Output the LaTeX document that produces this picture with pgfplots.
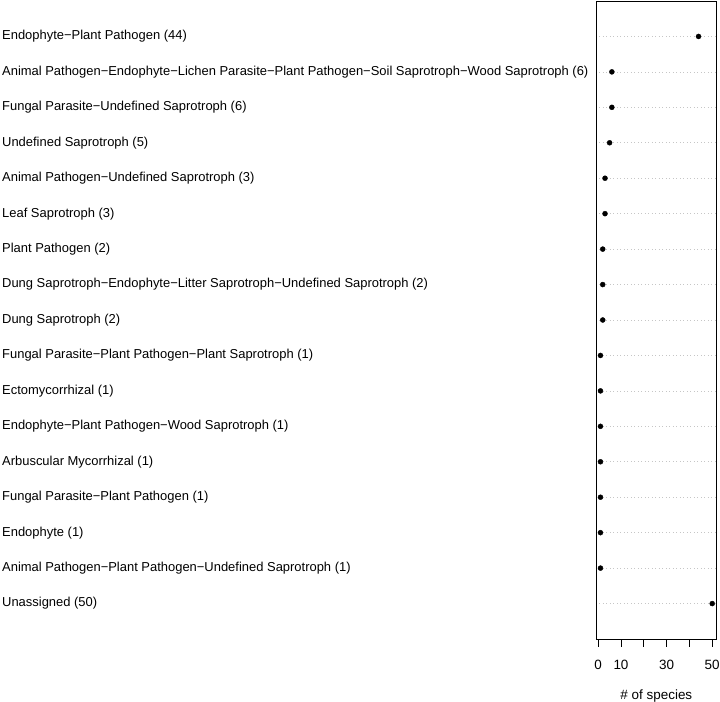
\documentclass[border=0pt]{standalone}
\usepackage{fontspec}
\setmainfont{Liberation Sans}
\usepackage{pgfplots}
\pgfplotsset{compat=1.18}
\begin{document}
\fontsize{13}{15}\selectfont
\begin{tikzpicture}
\begin{axis}[
  scale only axis,
  width=120.7bp, height=638bp,
  xmin=-0.96, xmax=51.96,
  ymin=0, ymax=18,
  axis line style={black, line width=0.75pt},
  xtick={0,10,20,30,40,50},
  xticklabels={0,10,,30,,50},
  xtick pos=bottom,
  tick align=outside,
  xtick style={black, line width=0.75pt},
  major tick length=7.5bp,
  xticklabel style={anchor=center, yshift=-18bp, font=\fontsize{13.5}{15}\selectfont},
  ytick={1,...,17},
  ytick style={draw=none},
  yticklabels={
    Unassigned (50),
    Animal Pathogen−Plant Pathogen−Undefined Saprotroph (1),
    Endophyte (1),
    Fungal Parasite−Plant Pathogen (1),
    Arbuscular Mycorrhizal (1),
    Endophyte−Plant Pathogen−Wood Saprotroph (1),
    Ectomycorrhizal (1),
    Fungal Parasite−Plant Pathogen−Plant Saprotroph (1),
    Dung Saprotroph (2),
    Dung Saprotroph−Endophyte−Litter Saprotroph−Undefined Saprotroph (2),
    Plant Pathogen (2),
    Leaf Saprotroph (3),
    Animal Pathogen−Undefined Saprotroph (3),
    Undefined Saprotroph (5),
    Fungal Parasite−Undefined Saprotroph (6),
    Animal Pathogen−Endophyte−Lichen Parasite−Plant Pathogen−Soil Saprotroph−Wood Saprotroph (6),
    Endophyte−Plant Pathogen (44)
  },
  yticklabel style={anchor=west, xshift=-586.5bp, inner sep=0pt, font=\fontsize{13}{15}\selectfont},
  ymajorgrids,
  major grid style={draw=gray!45, dash pattern=on 1bp off 2.5bp, line width=0.6pt},
  xlabel={\# of species},
  xlabel style={at={(axis description cs:0.5,0)}, anchor=center, yshift=-57bp, font=\fontsize{13.5}{15}\selectfont},
]
\addplot[only marks, mark=*, mark size=2.5bp, black] coordinates {
  (50,1) (1,2) (1,3) (1,4) (1,5) (1,6) (1,7) (1,8) (2,9) (2,10) (2,11) (3,12) (3,13) (5,14) (6,15) (6,16) (44,17)
};
\end{axis}
\pgfresetboundingbox
\path[use as bounding box] ([xshift=-596bp,yshift=-63bp]current axis.south west) rectangle ([xshift=3.3bp,yshift=1bp]current axis.north east);
\end{tikzpicture}
\end{document}
